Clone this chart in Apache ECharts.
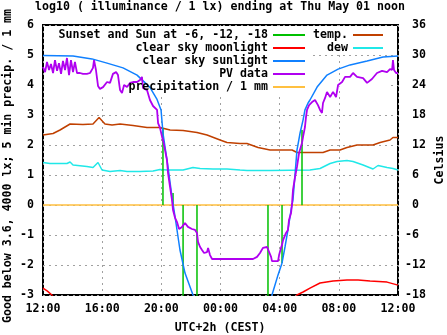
<!DOCTYPE html>
<html><head><meta charset="utf-8">
<script src="https://cdn.jsdelivr.net/npm/echarts@6.0.0/dist/echarts.min.js"></script>
<style>html,body{margin:0;padding:0;background:#fff}#c{width:447px;height:335px}</style>
</head><body><div id="c"></div>
<script>
// hours after 12:00 (Apr 30, UTC+2)
const xTickHours = [0, 4, 8, 12, 16, 20, 24];
const xTickLabels = ['12:00', '16:00', '20:00', '00:00', '04:00', '08:00', '12:00'];

// Sunset and Sun at -6, -12, -18 markers: time, end value (lines drawn from 0)
const sunMarkHours = [8.11, 8.79, 9.47, 10.41, 15.21, 16.16, 16.85, 17.51];
const sunMarkEnds  = [2.57, 0.40, -3.2, -3.2, -3.2, -1.93, 0.05, 2.50];

// clear sky moonlight (log10 lx)
const moonHours  = [0, 0.3, 0.6, 1.0, 16.8, 17.17, 17.58, 18.05, 18.73, 19.61, 20.55, 21.3, 22.11, 23.26, 24];
const moonValues = [-2.77, -2.87, -3.0, -3.3, -3.3, -3.0, -2.9, -2.77, -2.6, -2.53, -2.5, -2.5, -2.53, -2.57, -2.67];

// clear sky sunlight (log10 lx)
const sunHours  = [0, 2.03, 3.31, 4.33, 5.41, 6.36, 7.23, 7.71, 7.98, 8.11, 8.45, 8.72, 8.93, 9.26, 9.60, 10.14, 10.5,
                   15.2, 15.48, 15.89, 16.16, 16.36, 16.56, 16.77, 16.90, 17.17, 17.38, 17.58, 17.71, 17.92, 18.05, 18.53, 19.20, 19.95, 20.76, 21.91, 22.99, 24];
const sunValues = [4.98, 4.97, 4.87, 4.73, 4.57, 4.33, 3.92, 3.52, 3.17, 2.4, 1.27, 0.27, -0.4, -1.5, -2.27, -3.0, -3.5,
                   -3.5, -3.0, -2.33, -1.93, -1.4, -0.83, -0.17, 0.17, 1.83, 2.4, 2.83, 3.17, 3.4, 3.5, 3.93, 4.33, 4.53, 4.67, 4.8, 4.93, 4.97];

// PV data (log10 lx)
const pvHours = [0.00,0.14,0.27,0.41,0.54,0.68,0.81,0.95,1.08,1.22,1.35,1.49,1.62,1.76,1.89,2.03,2.16,2.30,2.50,2.70,2.97,3.18,3.38,3.45,3.58,3.72,3.85,4.06,4.33,4.53,4.73,4.94,5.07,5.21,5.34,5.48,5.68,5.88,6.09,6.36,6.56,6.69,6.76,7.03,7.23,7.44,7.71,7.78,7.91,8.05,8.11,8.25,8.38,8.45,8.59,8.72,8.79,8.93,9.06,9.20,9.40,9.60,9.80,10.07,10.28,10.41,10.48,10.62,10.75,10.89,11.09,11.16,11.29,11.43,14.20,14.47,14.67,14.87,15.15,15.28,15.42,15.48,15.89,15.96,16.09,16.16,16.23,16.43,16.56,16.63,16.77,16.84,16.90,17.04,17.17,17.31,17.51,17.58,17.71,17.78,17.85,17.99,18.19,18.39,18.59,18.73,18.86,18.93,19.07,19.20,19.41,19.61,19.81,19.95,20.22,20.42,20.76,20.96,21.23,21.64,21.91,22.24,22.58,22.92,23.26,23.46,23.60,23.66,23.73,23.87,24.00];
const pvValues = [4.60,4.43,4.77,4.50,4.70,4.40,4.83,4.47,4.73,4.37,4.80,4.50,4.90,4.33,4.83,4.43,4.77,4.40,4.40,4.37,4.37,4.40,4.57,4.83,4.50,3.97,3.87,3.93,4.10,4.07,4.37,4.43,4.33,3.83,3.73,4.00,3.93,4.07,4.10,4.10,4.17,4.27,3.90,3.83,3.50,3.30,3.17,2.73,2.57,2.27,2.17,1.83,1.50,1.07,0.60,0.17,-0.17,-0.43,-0.57,-0.80,-0.73,-0.60,-0.73,-0.80,-0.83,-0.93,-1.23,-1.40,-1.50,-1.60,-1.57,-1.43,-1.67,-1.80,-1.80,-1.73,-1.60,-1.43,-1.40,-1.43,-1.73,-1.87,-1.87,-1.67,-1.43,-1.33,-1.17,-0.93,-0.83,-0.50,-0.27,0.07,0.50,0.93,1.27,1.73,2.07,2.27,2.60,2.93,3.17,3.33,3.43,3.50,3.33,3.17,3.07,3.40,3.57,3.77,3.60,3.77,3.60,4.00,4.10,4.27,4.27,4.40,4.27,4.23,4.07,4.20,4.40,4.47,4.43,4.53,4.50,4.83,4.50,4.40,4.40];

// precipitation / 1 mm
const precipHours  = [0, 6, 12, 18, 24];
const precipValues = [0, 0, 0, 0, 0];

// temperature (Celsius)
const tempHours  = [0,0.68,1.15,1.83,2.70,3.38,3.79,4.19,4.67,5.21,6.09,7.03,7.91,8.59,9.47,10.41,11.09,11.97,12.44,13.32,13.79,14.54,15.35,16.84,17.17,18.93,19.41,20.08,20.55,21.23,22.31,22.79,23.46,23.66,24];
const tempValues = [14.0,14.3,15.0,16.2,16.1,16.2,17.5,16.2,16.0,16.2,15.9,15.5,15.5,15.0,14.9,14.5,14.0,13.0,12.5,12.3,12.3,11.5,11.0,11.0,10.5,10.5,11.0,11.0,11.5,12.0,12.0,12.5,13.0,13.5,13.5];

// dew point (Celsius)
const dewHours  = [0,0.47,1.62,1.83,2.03,2.97,3.38,3.72,3.99,4.53,5.21,5.68,6.56,7.44,7.91,8.38,9.47,10.14,10.62,11.49,12.44,13.32,13.79,15.35,18.05,18.73,19.41,19.88,20.55,20.96,21.64,22.31,22.65,23.26,23.66,24];
const dewValues = [8.5,8.3,8.3,8.6,8.0,7.7,7.5,8.5,7.0,6.7,6.9,6.7,6.7,6.8,7.1,7.0,7.0,7.5,7.3,7.2,7.2,7.0,6.9,6.9,7.0,7.3,8.3,8.7,8.9,8.7,8.0,7.2,7.9,7.5,7.3,7.0];

const FONT = 'DejaVu Sans Mono';
const FS = 11.6;
const pairs = (xs, ys) => xs.map((x, i) => [x, ys[i]]);
const markData = [];
sunMarkHours.forEach((t, i) => { markData.push([t, 0], [t, sunMarkEnds[i]], [t, null]); });

const base = { type: 'line', symbol: 'none', showSymbol: false, silent: true, animation: false, connectNulls: false };
const txt = (text, x, y, rot, align) => ({
  type: 'text', x, y, rotation: rot || 0, z: 10, silent: true,
  style: { text, fill: '#000', fontFamily: FONT, fontSize: FS, fontWeight: 'bold',
           align: align || 'center', verticalAlign: 'middle', textAlign: align || 'center', textVerticalAlign: 'middle' }
});
const mask = (x, y, w, h) => ({ type: 'rect', z: 1, silent: true, shape: { x, y, width: w, height: h }, style: { fill: '#fff' } });
const lblStyle = { fontFamily: FONT, fontSize: FS, fontWeight: 'bold', color: '#000' };
const legendCommon = {
  orient: 'vertical', align: 'right', icon: 'rect', itemHeight: 2, itemGap: 0, padding: 0, selectedMode: false,
  textStyle: { fontFamily: FONT, fontSize: FS, fontWeight: 'bold', color: '#000', lineHeight: 13 }
};

const chart = echarts.init(document.getElementById('c'), null, { renderer: 'canvas' });
chart.setOption({
  animation: false,
  backgroundColor: '#fff',
  grid: { left: 43, top: 25, width: 355, height: 270, show: true, borderColor: '#000', borderWidth: 2, backgroundColor: 'transparent' },
  legend: [
    Object.assign({}, legendCommon, { data: ['Sunset and Sun at -6, -12, -18', 'clear sky moonlight', 'clear sky sunlight', 'PV data', 'precipitation / 1 mm'], right: 142, top: 28.5, itemWidth: 32 }),
    Object.assign({}, legendCommon, { data: ['temp.', 'dew'], right: 64, top: 28.5, itemWidth: 30 })
  ],
  xAxis: {
    type: 'value', min: 0, max: 24, interval: 4,
    axisLine: { show: false }, axisTick: { show: false },
    axisLabel: Object.assign({ margin: 8, formatter: v => xTickLabels[xTickHours.indexOf(v)] || '' }, lblStyle),
    splitLine: { show: true, lineStyle: { color: '#a0a0a0', width: 1, type: [2, 4] } }
  },
  yAxis: [
    { type: 'value', min: -3, max: 6, interval: 1, position: 'left',
      axisLine: { show: false }, axisTick: { show: false },
      axisLabel: Object.assign({ margin: 9 }, lblStyle),
      splitLine: { show: true, lineStyle: { color: '#a0a0a0', width: 1, type: [2, 4] } } },
    { type: 'value', min: -18, max: 36, interval: 6, position: 'right',
      axisLine: { show: false }, axisTick: { show: false },
      axisLabel: Object.assign({ margin: 7, formatter: v => (v >= 0 ? ' ' + v : String(v)) }, lblStyle),
      splitLine: { show: false } }
  ],
  graphic: [
    mask(44.5, 26, 265.5, 69),
    mask(310, 26, 87, 28),
    mask(310, 83.5, 78, 3),
    txt('log10 ( illuminance / 1 lx) ending at Thu May 01 noon', 220, 7),
    txt('Good below 3.6, 4000 lx; 5 min precip. / 1 mm', 8, 166, Math.PI / 2),
    txt('Celsius', 440, 160, Math.PI / 2),
    txt('UTC+2h (CEST)', 220, 328)
  ],
  series: [
    Object.assign({}, base, { name: 'temp.', yAxisIndex: 1, data: pairs(tempHours, tempValues), itemStyle: { color: '#c04000' }, lineStyle: { color: '#c04000', width: 1.5 } }),
    Object.assign({}, base, { name: 'dew', yAxisIndex: 1, data: pairs(dewHours, dewValues), itemStyle: { color: '#20e8e8' }, lineStyle: { color: '#20e8e8', width: 1.5 } }),
    Object.assign({}, base, { name: 'precipitation / 1 mm', data: pairs(precipHours, precipValues), itemStyle: { color: '#ffc040' }, lineStyle: { color: '#ffc040', width: 1.5 } }),
    Object.assign({}, base, { name: 'Sunset and Sun at -6, -12, -18', data: markData, itemStyle: { color: '#00c000' }, lineStyle: { color: '#00c000', width: 1.5 } }),
    Object.assign({}, base, { name: 'clear sky moonlight', data: pairs(moonHours, moonValues), itemStyle: { color: '#ff0000' }, lineStyle: { color: '#ff0000', width: 1.5 } }),
    Object.assign({}, base, { name: 'clear sky sunlight', data: pairs(sunHours, sunValues), itemStyle: { color: '#1080ff' }, lineStyle: { color: '#1080ff', width: 1.5 } }),
    Object.assign({}, base, { name: 'PV data', data: pairs(pvHours, pvValues), itemStyle: { color: '#b000f0' }, lineStyle: { color: '#b000f0', width: 1.8 } })
  ]
});
</script></body></html>
